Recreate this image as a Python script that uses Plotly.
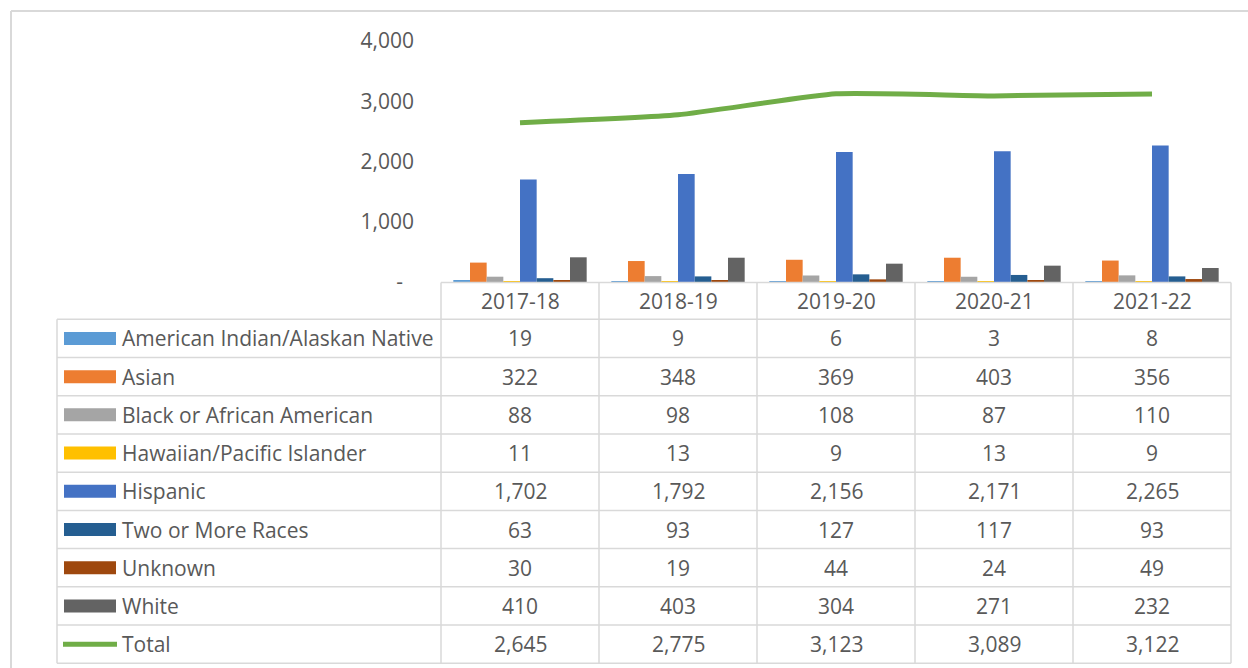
import plotly.graph_objects as go

# ---------------- data ----------------
years = ["2017-18", "2018-19", "2019-20", "2020-21", "2021-22"]
american_indian = [19, 9, 6, 3, 8]
asian = [322, 348, 369, 403, 356]
black = [88, 98, 108, 87, 110]
hawaiian = [11, 13, 9, 13, 9]
hispanic = [1702, 1792, 2156, 2171, 2265]
two_or_more = [63, 93, 127, 117, 93]
unknown = [30, 19, 44, 24, 49]
white = [410, 403, 304, 271, 232]
total = [2645, 2775, 3123, 3089, 3122]

series_names = ["American Indian/Alaskan Native", "Asian", "Black or African American",
                "Hawaiian/Pacific Islander", "Hispanic", "Two or More Races", "Unknown", "White"]
series_values = [american_indian, asian, black, hawaiian, hispanic, two_or_more, unknown, white]
series_colors = ["#5B9BD5", "#ED7D31", "#A5A5A5", "#FFC000", "#4472C4", "#255E91", "#9E480E", "#636363"]
total_name = "Total"
total_color = "#70AD47"

y_tickvals = [0, 1000, 2000, 3000, 4000]
y_ticktext = ["-\u00a0\u00a0", "1,000", "2,000", "3,000", "4,000"]

# ---------------- layout helpers ----------------
W, H = 1248, 668
FONT = "Open Sans"
TXT = "#595959"
GRID = "#D9D9D9"
FS = 21

def px(x):
    return x / W

def py(y):
    return 1 - y / H

plot_left, plot_right = 441, 1231
plot_top, plot_bottom = 41, 282
table_left = 57
header_top = 282.5
row_top0 = 319.3
row_h = 38.22
n_rows = len(series_names) + 1

fig = go.Figure()

for name, vals, col in zip(series_names, series_values, series_colors):
    fig.add_trace(go.Bar(x=years, y=vals, name=name, marker=dict(color=col, line=dict(width=0))))

fig.add_trace(go.Scatter(x=years, y=total, name=total_name, mode="lines",
                         line=dict(color=total_color, width=5, shape="spline", smoothing=0.5)))

shapes = []
annotations = []

# outer chart border (top & left)
shapes.append(dict(type="line", xref="paper", yref="paper", x0=px(11), x1=1.0, y0=py(11), y1=py(11),
                   line=dict(color=GRID, width=2)))
shapes.append(dict(type="line", xref="paper", yref="paper", x0=px(11), x1=px(11), y0=py(11), y1=0,
                   line=dict(color=GRID, width=2)))

# table header top line
shapes.append(dict(type="line", xref="paper", yref="paper", x0=px(plot_left), x1=px(plot_right),
                   y0=py(header_top), y1=py(header_top), line=dict(color=GRID, width=1.5)))
# horizontal row lines
for k in range(n_rows + 1):
    yy = row_top0 + k * row_h
    shapes.append(dict(type="line", xref="paper", yref="paper", x0=px(table_left), x1=px(plot_right),
                       y0=py(yy), y1=py(yy), line=dict(color=GRID, width=1.5)))
# vertical lines
table_bottom = row_top0 + n_rows * row_h
shapes.append(dict(type="line", xref="paper", yref="paper", x0=px(table_left), x1=px(table_left),
                   y0=py(row_top0), y1=py(table_bottom), line=dict(color=GRID, width=1.5)))
for j in range(len(years) + 1):
    xx = plot_left + j * (plot_right - plot_left) / len(years)
    shapes.append(dict(type="line", xref="paper", yref="paper", x0=px(xx), x1=px(xx),
                       y0=py(header_top), y1=py(table_bottom), line=dict(color=GRID, width=1.5)))

# header labels
header_c = (header_top + row_top0) / 2
for yr in years:
    annotations.append(dict(x=yr, xref="x", y=py(header_c), yref="paper", text=yr, showarrow=False,
                            xanchor="center", yanchor="middle", font=dict(family=FONT, size=FS, color=TXT)))

# rows
all_names = series_names + [total_name]
all_vals = series_values + [total]
for k, (name, vals) in enumerate(zip(all_names, all_vals)):
    cy = row_top0 + k * row_h + row_h / 2
    if k < len(series_names):
        shapes.append(dict(type="rect", xref="paper", yref="paper", x0=px(64), x1=px(116),
                           y0=py(cy - 6.5), y1=py(cy + 6.5), fillcolor=series_colors[k],
                           line=dict(width=0)))
    else:
        shapes.append(dict(type="line", xref="paper", yref="paper", x0=px(63), x1=px(117),
                           y0=py(cy), y1=py(cy), line=dict(color=total_color, width=5)))
    annotations.append(dict(x=px(120), xref="paper", y=py(cy), yref="paper", text=name, showarrow=False,
                            xanchor="left", yanchor="middle", font=dict(family=FONT, size=FS, color=TXT)))
    for yr, v in zip(years, vals):
        annotations.append(dict(x=yr, xref="x", y=py(cy), yref="paper", text=f"{v:,}", showarrow=False,
                                xanchor="center", yanchor="middle",
                                font=dict(family=FONT, size=FS, color=TXT)))

fig.update_layout(
    template="none",
    width=W, height=H, autosize=False,
    margin=dict(l=0, r=0, t=0, b=0, pad=0),
    paper_bgcolor="white", plot_bgcolor="white",
    barmode="group", bargap=0.156, bargroupgap=0,
    showlegend=False,
    xaxis=dict(domain=[px(plot_left), px(plot_right)], type="category", range=[-0.5, 4.5],
               automargin=False,
               showticklabels=False, showgrid=False, zeroline=False, showline=False, ticks=""),
    yaxis=dict(domain=[py(plot_bottom), py(plot_top)], range=[0, 4000], tickvals=y_tickvals,
               automargin=False,
               ticktext=y_ticktext, showgrid=False, zeroline=False, showline=False, ticks="",
               ticklabelstandoff=26,
               tickfont=dict(family=FONT, size=FS, color=TXT)),
    shapes=shapes, annotations=annotations,
)

fig.write_html("out.html", config={"displayModeBar": False},
               post_script="document.body.style.margin='0';document.body.style.overflow='hidden';")
